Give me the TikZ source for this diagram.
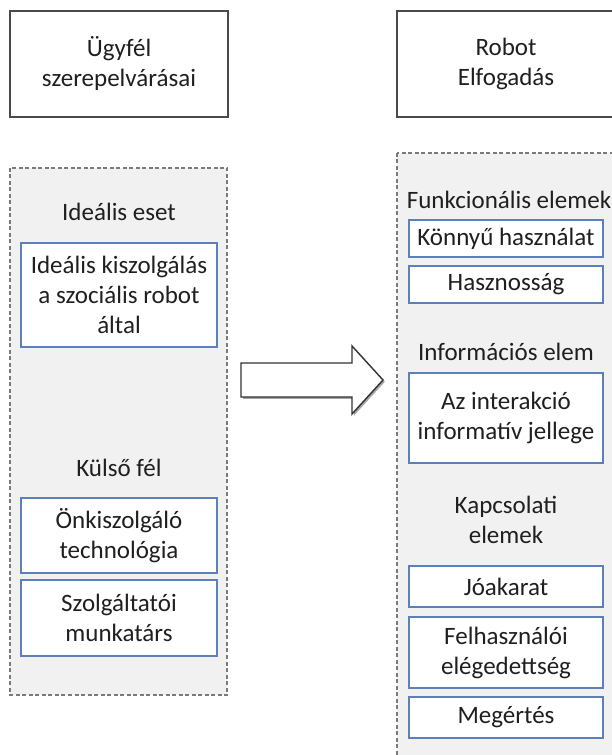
\documentclass[tikz,border=0pt]{standalone}
\usepackage{fontspec}
\setmainfont{Carlito}
\usetikzlibrary{shadows}
\definecolor{txt}{HTML}{1F1F1F}
\definecolor{frame}{HTML}{4A4A4A}
\definecolor{panelfill}{HTML}{F1F1F1}
\definecolor{paneldash}{HTML}{7A7A7A}
\definecolor{itemblue}{HTML}{5D7FBA}
\begin{document}
\begin{tikzpicture}[x=1pt,y=1pt,
  font=\fontsize{25}{30}\selectfont, text=txt,
  headbox/.style={draw=frame, line width=1.3pt, fill=white, inner sep=0pt,
    minimum width=218pt, minimum height=106pt, align=center},
  panel/.style={draw=paneldash, fill=panelfill, line width=1.3pt,
    dash pattern=on 4pt off 2.5pt},
  item/.style={draw=itemblue, line width=1.2pt, fill=white, inner sep=0pt,
    align=center},
  leftitem/.style={item, minimum width=196pt},
  rightitem/.style={item, minimum width=194pt},
  caption/.style={inner sep=0pt, align=center},
  bigarrow/.style={draw=black!80, line width=1.4pt, fill=white,
    drop shadow={shadow xshift=1.8pt, shadow yshift=-1.8pt, opacity=0.35, fill=black}}
]
\useasboundingbox (0,0) rectangle (612,755);
\begin{scope}
\clip (0,0) rectangle (612,755);

% header boxes
\node[headbox] (client) at (119,691) {Ügyfél\\szerepelvárásai};
\node[headbox] (robot) at (506,691) {Robot\\Elfogadás};

% grey dashed panels
\draw[panel] (10,587) rectangle (227,60);
\draw[panel] (397,602) rectangle (621,-20);

% left panel contents
\node[caption] (ideal) at (119,543) {Ideális eset};
\node[leftitem, minimum height=104pt] (idealsrv) at (119,460) {Ideális kiszolgálás\\a szociális robot\\által};
\node[caption] (external) at (119,287) {Külső fél};
\node[leftitem, minimum height=75pt] (selfsrv) at (119,219.5) {Önkiszolgáló\\technológia};
\node[leftitem, minimum height=76pt] (staff) at (119,137) {Szolgáltatói\\munkatárs};

% right panel contents
\node[caption] (func) at (509,555) {Funkcionális elemek};
\node[rightitem, minimum height=37pt] (ease) at (506,516.5) {Könnyű használat};
\node[rightitem, minimum height=37pt] (useful) at (506,470.5) {Hasznosság};
\node[caption] (info) at (506,403) {Információs elem};
\node[rightitem, minimum height=90pt] (interact) at (506,337) {Az interakció\\informatív jellege};
\node[caption] (rel) at (506,235.5) {Kapcsolati\\elemek};
\node[rightitem, minimum height=41pt] (goodwill) at (506,168.5) {Jóakarat};
\node[rightitem, minimum height=71pt] (satisf) at (506,102.5) {Felhasználói\\elégedettség};
\node[rightitem, minimum height=41pt] (underst) at (506,37.5) {Megértés};

% block arrow between the panels
\draw[bigarrow] (241,392) -- (352,392) -- (352,409) -- (383,375)
  -- (352,341) -- (352,358) -- (241,358) -- cycle;
\end{scope}
\end{tikzpicture}
\end{document}
